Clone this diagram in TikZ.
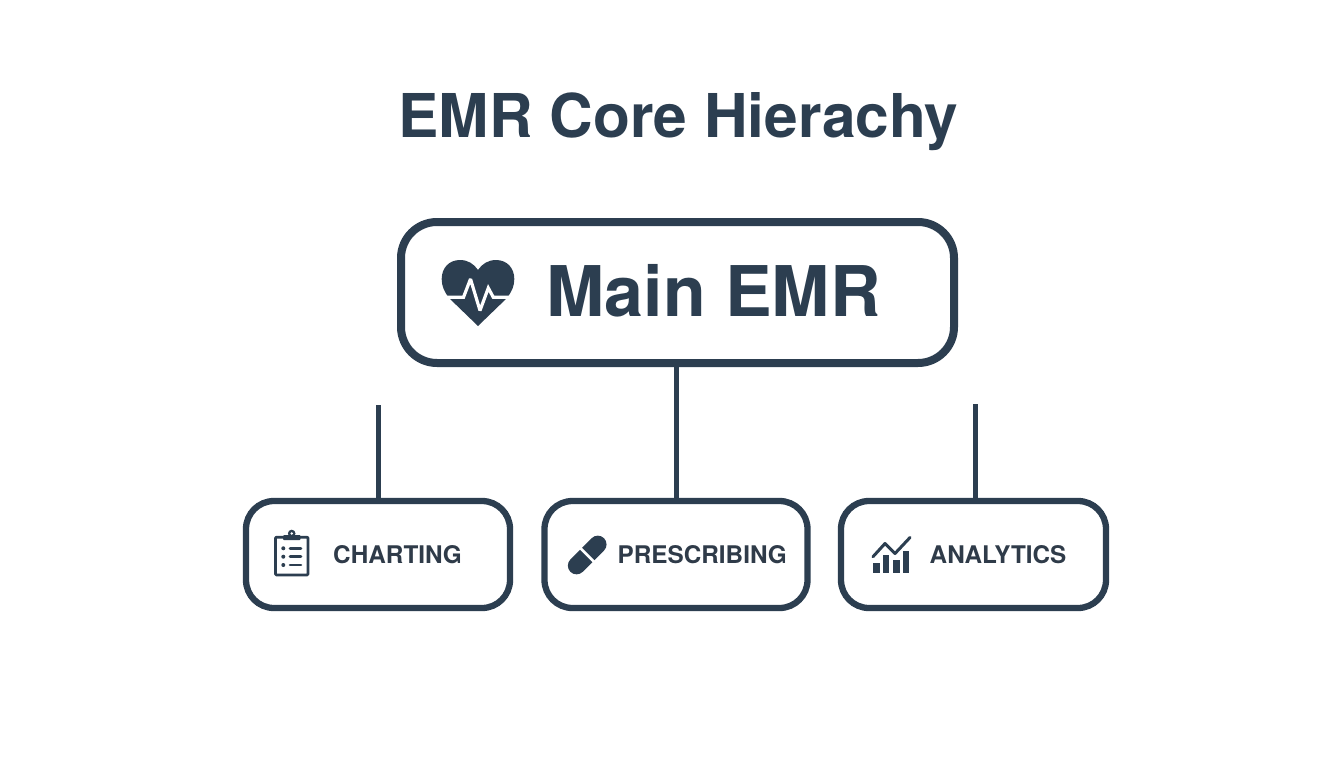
\documentclass[tikz,border=0pt]{standalone}
\usepackage{fontspec}
\setmainfont{TeX Gyre Heros}
\definecolor{navy}{HTML}{2C3E50}
\definecolor{labelgrey}{HTML}{2F3B49}
\tikzset{
  mainbox/.style={draw=navy,line width=8pt,rounded corners=36pt,minimum width=553pt,minimum height=141pt,outer sep=0pt,inner sep=0pt},
  subbox/.style={draw=navy,line width=6.3pt,rounded corners=28pt,minimum height=107pt,outer sep=0pt,inner sep=0pt},
  link/.style={draw=navy,line width=5pt},
  titletext/.style={text=navy,font=\fontsize{60.4pt}{62pt}\selectfont\bfseries,anchor=base,inner sep=0pt},
  maintext/.style={text=navy,font=\fontsize{69.9pt}{72pt}\selectfont\bfseries,anchor=base west,inner sep=0pt},
  subtext/.style={text=labelgrey,font=\fontsize{24.3pt}{26pt}\selectfont\bfseries,anchor=base west,inner sep=0pt},
  iconline/.style={draw=navy,line width=2.6pt,line cap=round,line join=round},
}
\begin{document}
\begin{tikzpicture}[x=1pt,y=-1pt]
\useasboundingbox[fill=white] (0,0) rectangle (1344,768);
\node[titletext] (title) at (678.5,137) {EMR Core Hierachy};
\node[mainbox] (main) at (677.5,292.5) {};
\node[subbox,minimum width=264pt] (chart) at (378,554.5) {};
\node[subbox,minimum width=263pt] (presc) at (676,554.5) {};
\node[subbox,minimum width=265pt] (analy) at (973.5,554.5) {};
\coordinate (chartend) at (378.5,405);
\coordinate (analyend) at (975,404);
\draw[link] (presc.north |- main.south) -- (presc.north);
\draw[link] (chartend) -- (chartend |- chart.north);
\draw[link] (analyend) -- (analyend |- analy.north);
\node[maintext] (mainlabel) at (546.5,316.5) {Main EMR};
\node[subtext] (chartlabel) at (333,563.5) {CHARTING};
\node[subtext] (presclabel) at (617.5,563.5) {PRESCRIBING};
\node[subtext] (analylabel) at (929.5,563.5) {ANALYTICS};
% heart
\fill[navy] (478,326) -- (449,298)
  .. controls (444,291) and (441.7,286) .. (441.7,279)
  .. controls (441.7,268) and (449,260) .. (460,260)
  .. controls (468,260) and (474,264) .. (478,270)
  .. controls (482,264) and (488,260) .. (496,260)
  .. controls (507,260) and (514.3,268) .. (514.3,279)
  .. controls (514.3,286) and (512,291) .. (507,298) -- cycle;
\draw[white,line width=3.2pt,line join=miter,miter limit=3] (438,297.3) -- (463.5,297.3) -- (470.5,279) -- (480,310.5) -- (488.3,288) -- (493.3,297.3) -- (518,297.3);
% clipboard
\draw[iconline,line width=2.8pt] (283,537.2) -- (276.5,537.2) -- (275.5,538.2) -- (275.5,574) -- (276.5,575) -- (307,575) -- (308,574) -- (308,538.2) -- (307,537.2) -- (300.5,537.2);
\fill[navy,rounded corners=1pt] (283,540) rectangle (300.7,535);
\fill[navy] (291.7,533.5) circle (3.8pt);
\fill[white] (291.7,533.5) circle (1.4pt);
\foreach \yy in {548.3,556.7,565}{
  \fill[navy] (283.3,\yy) circle (2pt);
  \draw[iconline,line width=2.6pt] (290,\yy) -- (301,\yy);
}
% pill
\begin{scope}[shift={(587.2,555)},rotate=45]
  \draw[navy,line width=17.5pt,line cap=round] (-15,0) -- (15,0);
  \draw[white,line width=2.6pt] (0,-11) -- (0,11);
\end{scope}
% chart icon
\fill[navy] (873.3,563.3) rectangle (879.5,573.3);
\fill[navy] (882.8,555) rectangle (889.3,573.3);
\fill[navy] (893.3,560) rectangle (899.5,573.3);
\fill[navy] (902.8,551) rectangle (909.3,573.3);
\draw[iconline,line width=3pt] (873,556.7) -- (885,543.5) -- (895,553.5) -- (910,537.5);
\end{tikzpicture}
\end{document}
